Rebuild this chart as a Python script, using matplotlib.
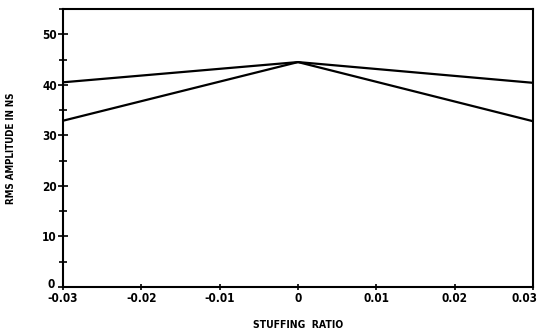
import matplotlib
matplotlib.use("Agg")
import matplotlib.pyplot as plt
from matplotlib import font_manager
from matplotlib.ticker import MultipleLocator, FixedLocator
import matplotlib.transforms as mtransforms

ratio = [-0.03, 0.0, 0.03]
rms_upper = [40.5, 44.5, 40.4]
rms_lower = [32.9, 44.5, 32.8]
xtick_vals = [-0.03, -0.02, -0.01, 0.0, 0.01, 0.02, 0.03]
xtick_labels = ["-0.03", "-0.02", "-0.01", "0", "0.01", "0.02", "0.03"]
ytick_vals = [0, 10, 20, 30, 40, 50]

names = {f.name for f in font_manager.fontManager.ttflist}
narrow = [n for n in ("Liberation Sans Narrow", "DejaVu Sans") if n in names]
plt.rcParams["font.family"] = narrow + ["DejaVu Sans"]
plt.rcParams["font.weight"] = "bold"
plt.rcParams["font.stretch"] = "condensed"

fig = plt.figure(figsize=(5.4, 3.29), dpi=100)
ax = fig.add_axes([0.1167, 0.1277, 0.8703, 0.8449])

ax.plot(ratio, rms_upper, color="black", lw=1.6)
ax.plot(ratio, rms_lower, color="black", lw=1.6)

ax.set_xlim(-0.03, 0.03)
ax.set_ylim(0, 55)
ax.xaxis.set_major_locator(FixedLocator(xtick_vals))
ax.set_xticklabels(xtick_labels)
ax.yaxis.set_major_locator(FixedLocator(ytick_vals))
ax.yaxis.set_minor_locator(MultipleLocator(5))

for s in ax.spines.values():
    s.set_linewidth(1.5)
ax.tick_params(axis="both", which="both", direction="inout", width=1.2,
               labelsize=8.5, pad=1)
ax.tick_params(axis="y", which="major", length=7)
ax.tick_params(axis="y", which="minor", length=6)
ax.tick_params(axis="x", which="major", length=5)

# nudge corner labels: last x label left, y "0" label up
last = ax.get_xticklabels()[-1]
last.set_transform(last.get_transform() + mtransforms.ScaledTranslation(-8 / 100, 0, fig.dpi_scale_trans))
zero = ax.get_yticklabels()[0]
zero.set_transform(zero.get_transform() + mtransforms.ScaledTranslation(-2 / 100, 4 / 100, fig.dpi_scale_trans))

ax.set_xlabel("STUFFING  RATIO", fontsize=7.5, fontweight="bold", labelpad=11)
ax.set_ylabel("RMS AMPLITUDE IN NS", fontsize=7, fontweight="bold", labelpad=19)

fig.savefig("out.png", dpi=100)
